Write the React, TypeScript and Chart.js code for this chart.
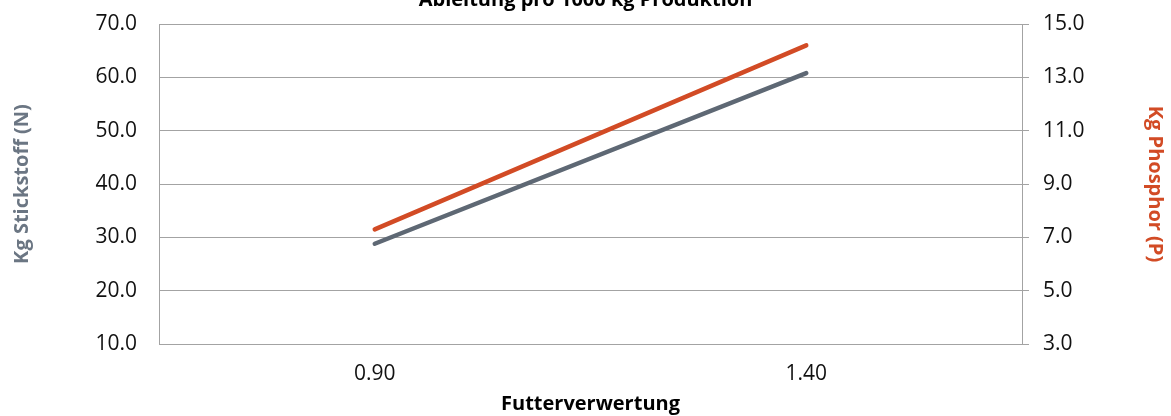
import React, { useEffect, useRef } from "react";
import { Chart, registerables } from "chart.js";

Chart.register(...registerables);

const categories = ["0.90", "1.40"];
const stickstoff = [28.8, 60.8];
const phosphor = [7.3, 14.2];

const titleText = "Ableitung pro 1000 kg Produktion";
const xTitle = "Futterverwertung";
const yLeftTitle = "Kg Stickstoff (N)";
const yRightTitle = "Kg Phosphor (P)";

const GRID = "#a3a3a3";
const GREY = "#5e6874";
const ORANGE = "#d24b25";
const FONT = "'Open Sans', 'Noto Sans', sans-serif";

export default function App() {
  const ref = useRef<HTMLCanvasElement | null>(null);

  useEffect(() => {
    if (!ref.current) return;
    const chart = new Chart(ref.current, {
      type: "line",
      data: {
        labels: categories,
        datasets: [
          {
            label: yLeftTitle,
            data: stickstoff,
            borderColor: GREY,
            backgroundColor: GREY,
            borderWidth: 4.5,
            pointRadius: 0,
            borderCapStyle: "round",
            yAxisID: "y",
          },
          {
            label: yRightTitle,
            data: phosphor,
            borderColor: ORANGE,
            backgroundColor: ORANGE,
            borderWidth: 4.5,
            pointRadius: 0,
            borderCapStyle: "round",
            yAxisID: "y1",
          },
        ],
      },
      options: {
        responsive: true,
        maintainAspectRatio: false,
        animation: false,
        layout: { padding: 0 },
        plugins: {
          legend: { display: false },
          tooltip: { enabled: false },
          title: {
            display: true,
            text: titleText,
            color: "#000",
            font: { family: FONT, size: 20, weight: "bold" },
            padding: { top: 8, bottom: 12 },
          },
        },
        scales: {
          x: {
            offset: true,
            grid: { display: true, drawOnChartArea: false, drawTicks: false, color: GRID },
            border: { display: true, color: GRID, width: 1 },
            ticks: {
              color: "#111",
              font: { family: FONT, size: 21 },
              padding: 17,
              maxRotation: 0,
            },
            title: {
              display: true,
              text: xTitle,
              color: "#000",
              font: { family: FONT, size: 20, weight: "bold" },
              padding: { top: 0, bottom: 0 },
            },
            afterFit: (s: any) => {
              s.height = 72;
            },
          },
          y: {
            position: "left",
            min: 10,
            max: 70,
            grid: { color: GRID, drawTicks: false, lineWidth: 1 },
            border: { display: true, color: GRID, width: 1 },
            ticks: {
              stepSize: 10,
              color: "#111",
              font: { family: FONT, size: 21 },
              padding: 22,
              callback: (v: any) => Number(v).toFixed(1),
            },
            title: {
              display: true,
              text: yLeftTitle,
              color: "#6b7683",
              font: { family: FONT, size: 20, weight: "bold" },
              padding: { top: 10.5, bottom: 0 },
            },
            afterFit: (s: any) => {
              s.width = 159;
            },
          },
          y1: {
            position: "right",
            min: 3,
            max: 15,
            grid: { drawOnChartArea: false, drawTicks: true, tickLength: 7, color: GRID },
            border: { display: true, color: GRID, width: 1 },
            ticks: {
              stepSize: 2,
              color: "#111",
              font: { family: FONT, size: 21 },
              padding: 14,
              callback: (v: any) => Number(v).toFixed(1),
            },
            title: {
              display: true,
              text: yRightTitle,
              color: ORANGE,
              font: { family: FONT, size: 20, weight: "bold" },
              padding: { top: 4, bottom: 0 },
            },
            afterFit: (s: any) => {
              s.width = 149;
            },
          },
        },
      },
    });
    return () => chart.destroy();
  }, []);

  return (
    <div
      style={{
        position: "absolute",
        left: 0,
        top: -20,
        width: 1171,
        height: 436,
      }}
    >
      <canvas ref={ref} />
    </div>
  );
}
